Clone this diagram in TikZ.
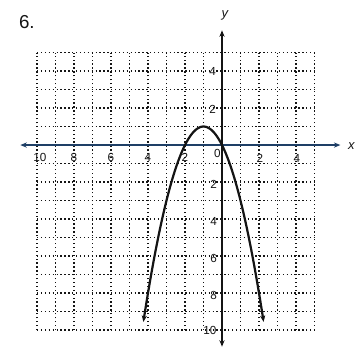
\documentclass[tikz,border=0pt]{standalone}
\usepackage{fontspec}
\setsansfont{Liberation Sans}
\usepackage{xcolor}
\usepackage{tikz}
\usetikzlibrary{arrows.meta}
\definecolor{axblue}{HTML}{1E3F66}
\definecolor{ink}{HTML}{141414}

\begin{document}
\begin{tikzpicture}[x=0.5cm, y=0.5cm,
  font=\sffamily, >={Stealth[length=5pt,width=4pt]},
  gridln/.style={ink, dotted, line width=1pt},
  axis/.style={ink, line width=1pt},
  curve/.style={ink, line width=1.7pt},
  tick/.style={font=\sffamily\small, inner sep=0.5pt, text=ink},
  axlbl/.style={font=\sffamily\itshape, inner sep=0pt, text=ink}]
\useasboundingbox (-12.0,-11.08) rectangle (7.19,7.84);
% ---------------- problem number
\node[font=\sffamily\Large, text=ink] (num) at (-10.55,6.65) {6.};
% ---------------- dotted grid
\foreach \g in {-10,...,5} {
  \draw[gridln] (\g,-10) -- (\g,5);
  \draw[gridln] (-10,\g) -- (5,\g);
}
% ---------------- axes
\coordinate (xl) at (-10.9,0);
\coordinate (xr) at (6.4,0);
\coordinate (yb) at (0,-10.9);
\coordinate (yt) at (0,6.2);
\draw[axis, draw=axblue, <->] (xl) -- (xr);
\draw[axis, <->] (yb) -- (yt);
\node[axlbl] (ylab) at (0.15,7.0) {y};
\node[axlbl, anchor=west] (xlab) at (6.8,-0.05) {x};
% ---------------- tick labels
\node[tick] (x10) at (-9.85,-0.65) {10};
\foreach \v/\t in {-8/8,-6/6,-4/4,-2/2} \node[tick] (xn\t) at (\v,-0.65) {\t};
\foreach \v in {2,4} \node[tick] (xp\v) at (\v+0.05,-0.7) {\v};
\node[tick] (zero) at (-0.25,-0.45) {0};
\foreach \v in {2,4} \node[tick] (yp\v) at (-0.5,\v-0.05) {\v};
\foreach \v/\t in {-2/2,-4/4,-6/6,-8/8} \node[tick] (yn\t) at (-0.45,\v-0.12) {\t};
\node[tick] (y10) at (-0.65,-10) {10};
% ---------------- parabola y = -(x+1)^2 + 1
\draw[curve, <->] plot[domain=-4.25:2.25, samples=80, smooth] (\x,{-(\x+1)*(\x+1)+1});
\end{tikzpicture}
\end{document}
